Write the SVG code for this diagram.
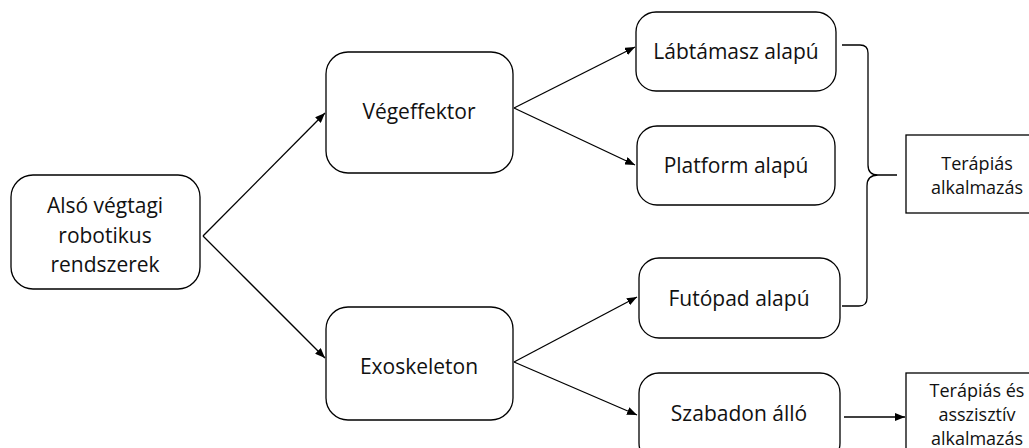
<svg xmlns="http://www.w3.org/2000/svg" width="1029" height="448" viewBox="0 0 1029 448">
<defs>
<style>
.n{fill:#fff;stroke:#000;stroke-width:1.3}
.t{font-family:"Open Sans","Noto Sans",sans-serif;font-size:21px;fill:#111;text-anchor:middle}
.s{font-family:"Open Sans","Noto Sans",sans-serif;font-size:18px;fill:#111;text-anchor:middle}
.c{fill:none;stroke:#000;stroke-width:1.3}
</style>
<marker id="ah" viewBox="0 0 10 8" refX="10" refY="4" markerWidth="10" markerHeight="8" markerUnits="userSpaceOnUse" orient="auto">
<path d="M0,0 L10,4 L0,8 Z" fill="#000"/>
</marker>
</defs>
<rect width="1029" height="448" fill="#fff"/>
<g id="connectors">
<path class="c" d="M203,236 L325,113" marker-end="url(#ah)"/>
<path class="c" d="M203,236 L325,358" marker-end="url(#ah)"/>
<path class="c" d="M514,108 L635,47" marker-end="url(#ah)"/>
<path class="c" d="M514,108 L635,165" marker-end="url(#ah)"/>
<path class="c" d="M514,362 L637,297" marker-end="url(#ah)"/>
<path class="c" d="M514,362 L637,415" marker-end="url(#ah)"/>
<path class="c" d="M844,417 L905,417" marker-end="url(#ah)"/>
<path class="c" d="M842,45 L860,45 Q868,45 868,53 L868,165 Q868,175 878,175 L897,175 M878,175 Q867,175 867,186 L867,298 Q867,306 859,306 L842,306"/>
</g>
<g id="n-also">
<rect class="n" x="11" y="175" width="189" height="114" rx="22"/>
<text class="t" x="105" y="213">Alsó végtagi</text>
<text class="t" x="105" y="243">robotikus</text>
<text class="t" x="105" y="272">rendszerek</text>
</g>
<g id="n-vegeffektor">
<rect class="n" x="326" y="52" width="187" height="121" rx="22"/>
<text class="t" x="419" y="119">Végeffektor</text>
</g>
<g id="n-exoskeleton">
<rect class="n" x="326" y="307" width="187" height="113" rx="22"/>
<text class="t" x="419" y="374">Exoskeleton</text>
</g>
<g id="n-labtamasz">
<rect class="n" x="636" y="12" width="200" height="79" rx="20"/>
<text class="t" x="736" y="59">Lábtámasz alapú</text>
</g>
<g id="n-platform">
<rect class="n" x="637" y="126" width="198" height="79" rx="20"/>
<text class="t" x="736" y="173">Platform alapú</text>
</g>
<g id="n-futopad">
<rect class="n" x="639" y="258" width="201" height="80" rx="20"/>
<text class="t" x="739" y="306">Futópad alapú</text>
</g>
<g id="n-szabadon">
<rect class="n" x="639" y="373" width="201" height="90" rx="20"/>
<text class="t" x="739" y="421">Szabadon álló</text>
</g>
<g id="n-terapias">
<rect class="n" x="906" y="135" width="140" height="78"/>
<text class="s" x="977" y="170">Terápiás</text>
<text class="s" x="977" y="194">alkalmazás</text>
</g>
<g id="n-terapias-asszisztiv">
<rect class="n" x="906" y="373" width="140" height="90"/>
<text class="s" x="977" y="397">Terápiás és</text>
<text class="s" x="977" y="421">asszisztív</text>
<text class="s" x="977" y="445">alkalmazás</text>
</g>
</svg>
